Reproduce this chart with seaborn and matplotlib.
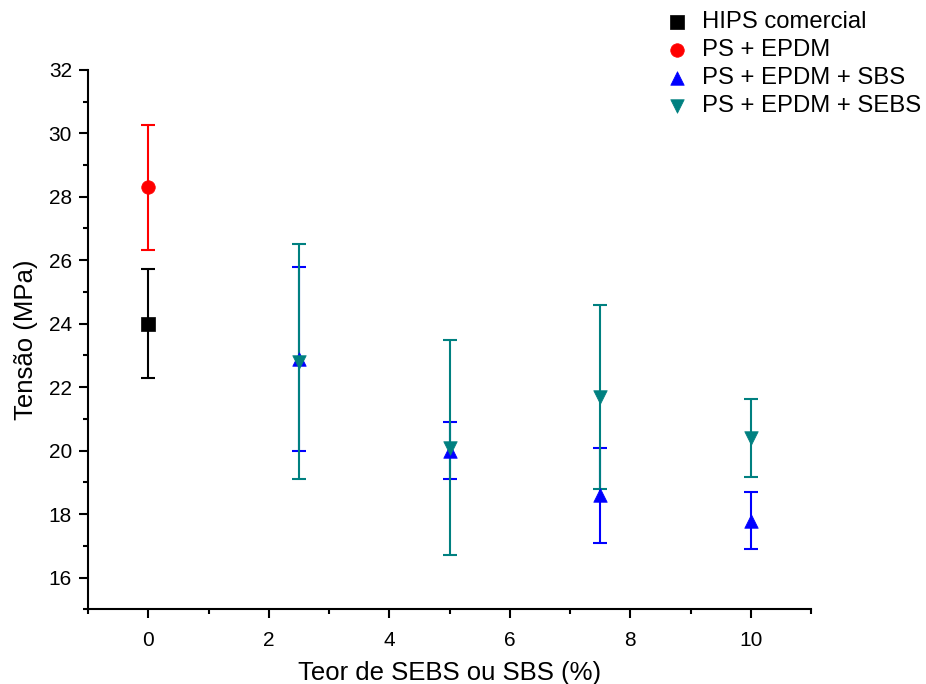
import matplotlib
matplotlib.use('Agg')
import matplotlib.pyplot as plt
import seaborn as sns
import pandas as pd
from matplotlib.ticker import MultipleLocator

# values
hips_x = [0]
hips_y = [24.0]
hips_err = [1.72]

epdm_x = [0]
epdm_y = [28.3]
epdm_err = [1.97]

sbs_x = [2.5, 5, 7.5, 10]
sbs_y = [22.9, 20.0, 18.6, 17.8]
sbs_err = [2.9, 0.9, 1.5, 0.9]

sebs_x = [2.5, 5, 7.5, 10]
sebs_y = [22.8, 20.1, 21.7, 20.4]
sebs_err = [3.7, 3.4, 2.9, 1.23]

series = [
    ('HIPS comercial', hips_x, hips_y, hips_err, 'black', 's'),
    ('PS + EPDM', epdm_x, epdm_y, epdm_err, 'red', 'o'),
    ('PS + EPDM + SBS', sbs_x, sbs_y, sbs_err, 'blue', '^'),
    ('PS + EPDM + SEBS', sebs_x, sebs_y, sebs_err, '#008080', 'v'),
]

sns.set_style('ticks')
plt.rcParams['font.family'] = ['Liberation Sans', 'DejaVu Sans']
for key in ['text.color', 'axes.labelcolor', 'xtick.color', 'ytick.color', 'axes.edgecolor']:
    plt.rcParams[key] = 'black'

fig = plt.figure(figsize=(9.26, 6.84), dpi=100)
ax = fig.add_axes([0.095, 0.109, 0.781, 0.789])

for name, x, y, err, color, marker in series:
    df = pd.DataFrame({'x': x, 'y': y})
    ax.errorbar(x, y, yerr=err, fmt='none', ecolor=color, elinewidth=1.5,
                capsize=5, capthick=1.5, zorder=2)
    sns.scatterplot(data=df, x='x', y='y', ax=ax, color=color, marker=marker,
                    s=95, edgecolor=color, linewidth=0.5, label=name, zorder=3)

ax.set_xlim(-1, 11)
ax.set_ylim(15, 32)
ax.xaxis.set_major_locator(MultipleLocator(2))
ax.xaxis.set_minor_locator(MultipleLocator(1))
ax.yaxis.set_major_locator(MultipleLocator(2))
ax.yaxis.set_minor_locator(MultipleLocator(1))
ax.tick_params(which='major', length=6.5, width=1.5, labelsize=15, direction='out')
ax.tick_params(which='minor', length=3.5, width=1.5, direction='out')
ax.tick_params(axis='x', which='major', pad=9)
ax.tick_params(axis='y', which='major', pad=5)
for side in ['top', 'right']:
    ax.spines[side].set_visible(False)
for side in ['left', 'bottom']:
    ax.spines[side].set_linewidth(1.5)

ax.set_xlabel('Teor de SEBS ou SBS (%)', fontsize=18.5, labelpad=8)
ax.set_ylabel('Tensão (MPa)', fontsize=18.5, labelpad=8)

handles, labels = ax.get_legend_handles_labels()
ax.get_legend().remove()
fig.legend(handles, labels, loc='upper left', bbox_to_anchor=(0.703, 1.005),
           frameon=False, fontsize=17.2, handletextpad=0.55, handlelength=1.0,
           labelspacing=0.25, borderaxespad=0.2, markerscale=1.0)

fig.savefig('out.png', dpi=100)
